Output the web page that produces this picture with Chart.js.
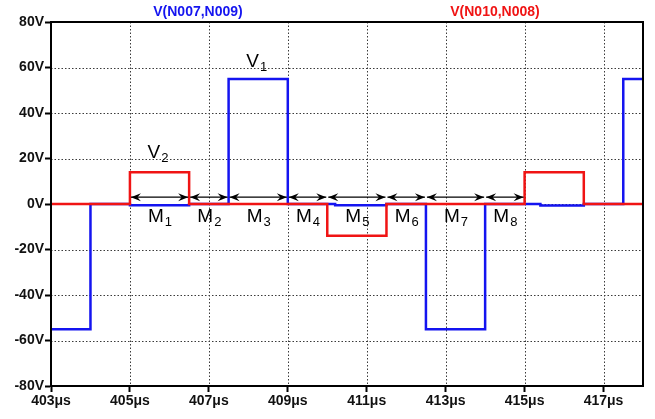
<!DOCTYPE html>
<html>
<head>
<meta charset="utf-8">
<script src="https://cdn.jsdelivr.net/npm/chart.js@4.4.1/dist/chart.umd.min.js"></script>
<style>
  html, body { margin: 0; padding: 0; background: #fff; }
  #wrap { width: 655px; height: 419px; }
</style>
</head>
<body>
<div id="wrap"><canvas id="c" width="655" height="419"></canvas></div>
<script>
// Time axis ticks (μs) and voltage ticks (V)
const timeTicks = [403, 405, 407, 409, 411, 413, 415, 417];
const voltTicks = [-80, -60, -40, -20, 0, 20, 40, 60, 80];

// V(N007,N009): breakpoints (μs) and held values (V)
const v1Times  = [403, 404, 405, 406.5, 407.5, 409, 410.2, 411.5, 412.5, 414, 415.4, 416.5, 417.5, 418];
const v1Values = [-55, 0, -0.6, 0, 55, 0, -0.5, 0, -55, 0, -0.7, 0, 55, 55];

// V(N010,N008): breakpoints (μs) and held values (V)
const v2Times  = [403, 405, 406.5, 410, 411.5, 415, 416.5, 418];
const v2Values = [0, 14, 0, -14, 0, 14, 0, 0];

// Interval boundaries for the M1..M8 arrows, arrow level and label level (V)
const intervalEdges = [405, 406.5, 407.5, 409, 410, 411.5, 412.5, 414, 415];
const intervalNames = ['1', '2', '3', '4', '5', '6', '7', '8'];
const arrowLevel = 3;
const intervalLabelLevel = -5;

// Waveform labels: [time, volts, subscript]
const waveLabels = [
  [408.2, 63.5, '1'],
  [405.7, 23.5, '2']
];

const BLUE = '#1414f0';
const RED = '#f01414';
const FONT = '"Liberation Sans", Arial, sans-serif';

function toPoints(xs, ys) { return xs.map((x, i) => ({ x: x, y: ys[i] })); }

// dotted grid drawn from the scales' own ticks
const dottedGrid = {
  id: 'dottedGrid',
  beforeDatasetsDraw(chart) {
    const ctx = chart.ctx;
    const xs = chart.scales.x, ys = chart.scales.y;
    const a = chart.chartArea;
    ctx.save();
    ctx.strokeStyle = '#3a3a3a';
    ctx.lineWidth = 1;
    ctx.setLineDash([1.5, 2]);
    xs.ticks.forEach(t => {
      const x = Math.round(xs.getPixelForValue(t.value)) + 0.5;
      ctx.beginPath(); ctx.moveTo(x, a.top); ctx.lineTo(x, a.bottom); ctx.stroke();
    });
    ys.ticks.forEach(t => {
      const y = Math.round(ys.getPixelForValue(t.value)) + 0.5;
      ctx.beginPath(); ctx.moveTo(a.left, y); ctx.lineTo(a.right, y); ctx.stroke();
    });
    ctx.restore();
  }
};

const overlay = {
  id: 'overlay',
  afterDatasetsDraw(chart) {
    const ctx = chart.ctx;
    const xs = chart.scales.x, ys = chart.scales.y;
    const area = chart.chartArea;
    ctx.save();

    // double-headed arrows between interval edges
    const ay = ys.getPixelForValue(arrowLevel);
    ctx.strokeStyle = '#000';
    ctx.fillStyle = '#000';
    ctx.lineWidth = 1.3;
    function head(x, dir) {
      const L = 10, W = 4, back = 3.5;
      ctx.beginPath();
      ctx.moveTo(x, ay);
      ctx.lineTo(x - dir * L, ay - W);
      ctx.lineTo(x - dir * (L - back), ay);
      ctx.lineTo(x - dir * L, ay + W);
      ctx.closePath();
      ctx.fill();
    }
    for (let i = 0; i < intervalEdges.length - 1; i++) {
      const x0 = xs.getPixelForValue(intervalEdges[i]);
      const x1 = xs.getPixelForValue(intervalEdges[i + 1]);
      ctx.beginPath();
      ctx.moveTo(x0 + 1, ay);
      ctx.lineTo(x1 - 1, ay);
      ctx.stroke();
      head(x0 + 1, -1);
      head(x1 - 1, 1);
    }

    // subscripted labels
    function subLabel(cx, cy, main, sub) {
      ctx.textBaseline = 'alphabetic';
      ctx.textAlign = 'left';
      ctx.font = '19px ' + FONT;
      const wm = ctx.measureText(main).width;
      ctx.font = '13px ' + FONT;
      const ws = ctx.measureText(sub).width;
      const x = cx - (wm + ws) / 2;
      ctx.fillStyle = '#000';
      ctx.font = '19px ' + FONT;
      ctx.fillText(main, x, cy + 7);
      ctx.font = '13px ' + FONT;
      ctx.fillText(sub, x + wm + 1, cy + 11);
    }
    const ly = ys.getPixelForValue(intervalLabelLevel);
    for (let i = 0; i < intervalNames.length; i++) {
      const cx = (xs.getPixelForValue(intervalEdges[i]) + xs.getPixelForValue(intervalEdges[i + 1])) / 2;
      subLabel(cx, ly, 'M', intervalNames[i]);
    }
    waveLabels.forEach(l => {
      subLabel(xs.getPixelForValue(l[0]), ys.getPixelForValue(l[1]), 'V', l[2]);
    });

    // plot frame
    ctx.strokeStyle = '#000';
    ctx.lineWidth = 2;
    ctx.strokeRect(area.left, area.top, area.right - area.left, area.bottom - area.top);

    // trace titles
    ctx.font = 'bold 14px ' + FONT;
    ctx.textAlign = 'center';
    ctx.textBaseline = 'middle';
    ctx.fillStyle = BLUE;
    ctx.fillText('V(N007,N009)', 198, 12);
    ctx.fillStyle = RED;
    ctx.fillText('V(N010,N008)', 495, 12);
    ctx.restore();
  }
};

const tickFont = { family: FONT, size: 14, weight: 'bold' };
const gridOpts = { drawOnChartArea: false, color: '#000', tickColor: '#000', tickLength: 6, tickWidth: 2 };

new Chart(document.getElementById('c'), {
  type: 'line',
  data: {
    datasets: [
      {
        label: 'V(N010,N008)',
        data: toPoints(v2Times, v2Values),
        borderColor: RED,
        borderWidth: 2.5,
        stepped: true,
        pointRadius: 0,
        fill: false
      },
      {
        label: 'V(N007,N009)',
        data: toPoints(v1Times, v1Values),
        borderColor: BLUE,
        borderWidth: 2.5,
        stepped: true,
        pointRadius: 0,
        fill: false
      }
    ]
  },
  options: {
    responsive: false,
    animation: false,
    devicePixelRatio: 1,
    layout: { padding: { top: 22, right: 12, bottom: 0, left: 0 } },
    plugins: { legend: { display: false }, tooltip: { enabled: false }, title: { display: false } },
    scales: {
      x: {
        type: 'linear',
        min: 403,
        max: 418,
        afterBuildTicks: axis => { axis.ticks = timeTicks.map(v => ({ value: v })); },
        afterFit: axis => { axis.height = 33; },
        grid: gridOpts,
        border: { display: true, color: '#000', width: 2 },
        ticks: { color: '#111', padding: 1, maxRotation: 0, font: tickFont, callback: v => v + 'μs' }
      },
      y: {
        type: 'linear',
        min: -80,
        max: 80,
        afterBuildTicks: axis => { axis.ticks = voltTicks.map(v => ({ value: v })); },
        afterFit: axis => { axis.width = 51; },
        grid: gridOpts,
        border: { display: true, color: '#000', width: 2 },
        ticks: { color: '#111', padding: 1, font: tickFont, callback: v => v + 'V' }
      }
    }
  },
  plugins: [dottedGrid, overlay]
});
</script>
</body>
</html>
